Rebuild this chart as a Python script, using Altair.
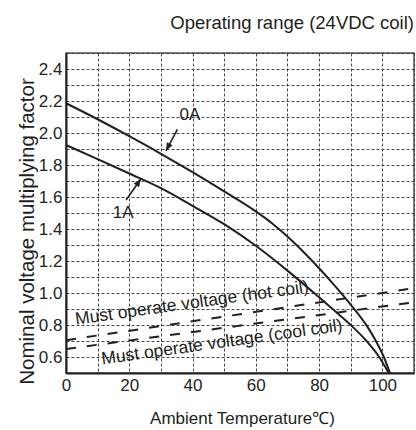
import math
import altair as alt
import pandas as pd

# ---- data ----
temp_0a = [0, 10, 20, 30, 40, 50, 60, 65, 70, 75, 80, 85, 90, 95, 98, 100.5, 102.4]
val_0a = [2.186, 2.086, 1.98, 1.87, 1.755, 1.635, 1.51, 1.4375, 1.3525, 1.2575, 1.155, 1.045,
          0.9275, 0.7975, 0.6985, 0.5985, 0.5]

temp_1a = [0, 10, 20, 30, 40, 50, 60, 70, 80, 85, 90, 95, 99, 102]
val_1a = [1.925, 1.837, 1.747, 1.655, 1.545, 1.43, 1.295, 1.14, 0.973, 0.887, 0.8, 0.7, 0.6, 0.5]

hot_temp = [0, 110]
hot_val = [0.705, 1.03]
cool_temp = [0, 110]
cool_val = [0.65, 0.942]

label_text = ["Must operate voltage (hot coil)", "Must operate voltage (cool coil)"]
label_temp = [39.8, 49.3]
label_val = [0.935, 0.69]

arrow_name = ["0A", "1A"]
arrow_tail_t = [35.2, 19.0]
arrow_tail_v = [2.023, 1.581]
arrow_tip_t = [31.6, 23.7]
arrow_tip_v = [1.889, 1.714]
arrow_text_t = [39.2, 18.1]
arrow_text_v = [2.1125, 1.502]

x_ticks = list(range(0, 111, 10))
y_ticks = [round(0.5 + 0.1 * i, 1) for i in range(21)]

# ---- geometry ----
W, H = 348, 320
XMIN, XMAX = 0, 110
YMIN, YMAX = 0.5, 2.5
INK = "#231f20"
FONT = "Liberation Sans"

px_t = W / (XMAX - XMIN)
px_v = H / (YMAX - YMIN)

curves = pd.concat([
    pd.DataFrame({"t": temp_0a, "v": val_0a, "s": "0A"}),
    pd.DataFrame({"t": temp_1a, "v": val_1a, "s": "1A"}),
])
dashed = pd.concat([
    pd.DataFrame({"t": hot_temp, "v": hot_val, "s": "hot"}),
    pd.DataFrame({"t": cool_temp, "v": cool_val, "s": "cool"}),
])
labels = pd.DataFrame({"txt": label_text, "t": label_temp, "v": label_val})

angles = []
for i in range(len(arrow_name)):
    dx = (arrow_tip_t[i] - arrow_tail_t[i]) * px_t
    dy = -(arrow_tip_v[i] - arrow_tail_v[i]) * px_v
    angles.append(math.degrees(math.atan2(dx, -dy)) % 360)

arrows = pd.DataFrame({
    "name": arrow_name,
    "t0": arrow_tail_t, "v0": arrow_tail_v,
    "t1": arrow_tip_t, "v1": arrow_tip_v,
    "tt": arrow_text_t, "tv": arrow_text_v,
    "ang": angles,
})

xs = alt.Scale(domain=[XMIN, XMAX], nice=False, zero=False)
ys = alt.Scale(domain=[YMIN, YMAX], nice=False, zero=False)

x_axis = alt.Axis(
    values=x_ticks, grid=True, ticks=False,
    labelExpr="(datum.value % 20 == 0 && datum.value <= 100) ? datum.label : ''",
    title="Ambient Temperature℃)", titleX=176, titleY=50, titleBaseline="alphabetic",
    labelPadding=4, labelFlush=False, labelOverlap=False,
)
y_axis = alt.Axis(
    values=y_ticks, grid=True, ticks=False,
    labelExpr="(round(datum.value * 10) % 2 == 0 && datum.value > 0.55 && datum.value < 2.45) ? format(datum.value, '.1f') : ''",
    title="Nominal voltage multiplying factor", titleX=-39, titleY=178,
    titleAngle=270, titleAlign="center", titleBaseline="middle",
    labelPadding=4, labelFlush=False, labelOverlap=False,
)


def X(field):
    return alt.X(field, type="quantitative", scale=xs, axis=x_axis)


def Y(field):
    return alt.Y(field, type="quantitative", scale=ys, axis=y_axis)


base_curves = alt.Chart(curves).mark_line(color=INK, strokeWidth=2, interpolate="monotone").encode(
    x=X("t"), y=Y("v"), detail="s:N",
)

dash_lines = alt.Chart(dashed).mark_line(color=INK, strokeWidth=2, strokeDash=[10, 11]).encode(
    x=X("t"), y=Y("v"), detail="s:N",
)

label_marks = alt.Chart(labels).mark_text(
    angle=352, fontSize=17.5, font=FONT, color=INK, align="center", baseline="middle"
).encode(x=X("t"), y=Y("v"), text="txt:N")

shafts = alt.Chart(arrows).mark_rule(color=INK, strokeWidth=1.6).encode(
    x=X("t0"), y=Y("v0"), x2="t1:Q", y2="v1:Q",
)
heads = alt.Chart(arrows).mark_point(
    shape="M0,0L-0.4,1L0.4,1Z", filled=True, color=INK, opacity=1, size=256
).encode(
    x=X("t1"), y=Y("v1"),
    angle=alt.Angle("ang:Q", scale=None),
)
arrow_text = alt.Chart(arrows).mark_text(
    fontSize=17, font=FONT, color=INK, align="center", baseline="middle"
).encode(x=X("tt"), y=Y("tv"), text="name:N")

chart = alt.layer(
    base_curves, dash_lines, label_marks, shafts, heads, arrow_text
).properties(
    width=W, height=H,
    padding={"left": 66, "top": 53, "right": 2, "bottom": 57},
    autosize=alt.AutoSizeParams(type="none"),
    title=alt.Title(
        "Operating range (24VDC coil)", anchor="end", fontSize=18.5,
        font=FONT, fontWeight="normal",
        color=INK, offset=12, dx=-4,
    ),
).configure_view(
    stroke="#555555", strokeWidth=1.5
).configure_axis(
    gridColor="#333333", gridDash=[3, 2], gridWidth=0.9, gridOpacity=1,
    domainColor=INK, domainWidth=2,
    labelFont=FONT, labelFontSize=17, labelColor=INK,
    titleFont=FONT, titleFontSize=17, titleColor=INK, titleFontWeight="normal",
).configure_axisY(titleFontSize=20.5)

chart.save("out.html", embed_options={"renderer": "svg", "actions": False})
